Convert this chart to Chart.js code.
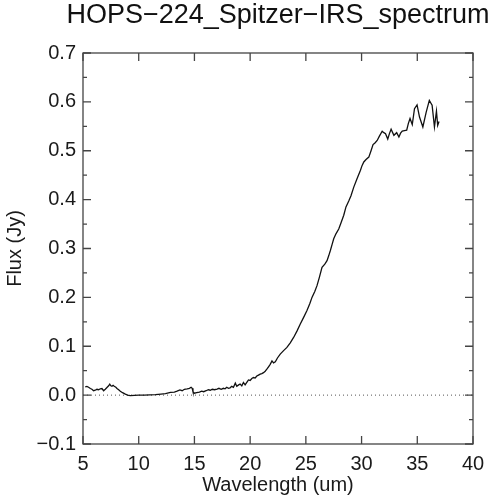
<!DOCTYPE html>
<html lang="en">
<head>
    <meta charset="UTF-8">
    <title>HOPS-224 Spitzer IRS spectrum</title>
    <!-- Chart.js -->
    <script src="https://cdn.jsdelivr.net/npm/chart.js"></script>
    <style>
        body { margin: 0; background: #fff; }
    </style>
</head>
<body>
    <canvas id="spectrumChart" width="493" height="500"></canvas>
    <script>
        // Spectrum: wavelength (um) and flux (Jy)
        const wavelength = [
            5.2, 5.35, 5.5, 5.66, 5.8, 5.95, 6.1, 6.25, 6.4, 6.55, 6.7, 6.85, 7.0, 7.15, 7.3, 7.4, 7.5, 7.6, 7.7, 7.8,
            7.95, 8.05, 8.2, 8.35, 8.55, 8.8, 9.0, 9.25, 9.6, 10.0, 10.5, 11.0, 11.5, 12.0, 12.4, 12.85, 13.2, 13.44, 13.7, 13.9,
            14.1, 14.35, 14.55, 14.7, 14.8, 14.87, 15.0, 15.2, 15.45, 15.65, 15.83, 16.05, 16.25, 16.43, 16.6, 16.8, 17.03, 17.2, 17.4, 17.6,
            17.75, 17.9, 18.05, 18.2, 18.35, 18.5, 18.67, 18.8, 18.97, 19.1, 19.25, 19.4, 19.55, 19.7, 19.85, 20.0, 20.15, 20.3, 20.45, 20.6,
            20.75, 20.9, 21.05, 21.2, 21.35, 21.5, 21.65, 21.8, 21.96, 22.1, 22.26, 22.45, 22.7, 23.0, 23.3, 23.6, 23.9, 24.2, 24.5, 24.8,
            25.1, 25.35, 25.55, 25.8, 26.0, 26.2, 26.45, 26.7, 26.9, 27.05, 27.2, 27.35, 27.5, 27.7, 27.95, 28.15, 28.4, 28.6, 28.85, 29.05,
            29.3, 29.6, 29.9, 30.05, 30.2, 30.4, 30.65, 30.85, 31.03, 31.2, 31.4, 31.6, 31.85, 32.0, 32.15, 32.35, 32.5, 32.65, 32.9, 33.15,
            33.35, 33.5, 33.65, 33.85, 34.05, 34.2, 34.35, 34.45, 34.55, 34.75, 34.98, 35.2, 35.5, 35.8, 36.08, 36.33, 36.54, 36.72, 36.83, 36.95
        ];
        const flux = [
            0.017, 0.018, 0.016, 0.0135, 0.012, 0.009, 0.010, 0.012, 0.011, 0.013, 0.0135, 0.009, 0.012, 0.0157, 0.019, 0.0225, 0.019, 0.018, 0.020, 0.018,
            0.016, 0.0135, 0.011, 0.008, 0.005, 0.002, 0.0, -0.001, -0.0005, 0.0, 0.0, 0.0005, 0.001, 0.002, 0.003, 0.0055, 0.006, 0.008, 0.0105, 0.009,
            0.012, 0.013, 0.014, 0.016, 0.014, 0.007, 0.004, 0.005, 0.006, 0.008, 0.007, 0.009, 0.011, 0.010, 0.012, 0.011, 0.0125, 0.014, 0.012, 0.014,
            0.013, 0.016, 0.014, 0.015, 0.018, 0.016, 0.0245, 0.018, 0.021, 0.0225, 0.019, 0.026, 0.021, 0.026, 0.031, 0.030, 0.034, 0.036, 0.035, 0.039,
            0.041, 0.043, 0.044, 0.046, 0.049, 0.053, 0.058, 0.063, 0.070, 0.066, 0.068, 0.076, 0.084, 0.091, 0.0976, 0.107, 0.118, 0.131, 0.1455, 0.159,
            0.173, 0.187, 0.200, 0.212, 0.224, 0.240, 0.2616, 0.268, 0.275, 0.285, 0.296, 0.308, 0.320, 0.330, 0.340, 0.352, 0.368, 0.385, 0.397, 0.408,
            0.4256, 0.443, 0.460, 0.470, 0.477, 0.482, 0.487, 0.500, 0.5125, 0.516, 0.521, 0.530, 0.540, 0.537, 0.535, 0.524, 0.535, 0.544, 0.5316, 0.537,
            0.528, 0.536, 0.540, 0.541, 0.542, 0.556, 0.566, 0.560, 0.5535, 0.586, 0.594, 0.569, 0.5486, 0.579, 0.603, 0.593, 0.5486, 0.581, 0.552, 0.560
        ];

        // Axis ticks and their labels
        const xTicks = [5, 10, 15, 20, 25, 30, 35, 40];
        const xTickLabels = ['5', '10', '15', '20', '25', '30', '35', '40'];
        const yTicks = [-0.1, 0.0, 0.1, 0.2, 0.3, 0.4, 0.5, 0.6, 0.7];
        const yTickLabels = ['\u22120.1', '0.0', '0.1', '0.2', '0.3', '0.4', '0.5', '0.6', '0.7'];
        const chartTitle = 'HOPS\u2212224_Spitzer\u2212IRS_spectrum';

        const fontFamily = "'Liberation Sans', Arial, sans-serif";
        const axisColor = '#444';
        Chart.defaults.font.family = fontFamily;
        Chart.defaults.color = '#1a1a1a';

        // Box around the plot with inward ticks on all four sides,
        // plus the title centred over the plot (allowed to run past it, like the original)
        const frameTicks = {
            id: 'frameTicks',
            afterDatasetsDraw(chart) {
                const { ctx, chartArea: a, scales: { x, y } } = chart;
                ctx.save();
                ctx.strokeStyle = axisColor;
                ctx.lineWidth = 1.3;
                ctx.strokeRect(a.left, a.top, a.right - a.left, a.bottom - a.top);
                ctx.beginPath();
                xTicks.forEach(v => {
                    const px = x.getPixelForValue(v);
                    ctx.moveTo(px, a.bottom); ctx.lineTo(px, a.bottom - 8);
                    ctx.moveTo(px, a.top); ctx.lineTo(px, a.top + 8);
                });
                yTicks.forEach((v, i) => {
                    const py = y.getPixelForValue(v);
                    ctx.moveTo(a.left, py); ctx.lineTo(a.left + 8, py);
                    ctx.moveTo(a.right, py); ctx.lineTo(a.right - 8, py);
                    if (i < yTicks.length - 1) {
                        const pm = y.getPixelForValue((v + yTicks[i + 1]) / 2);
                        ctx.moveTo(a.left, pm); ctx.lineTo(a.left + 4, pm);
                        ctx.moveTo(a.right, pm); ctx.lineTo(a.right - 4, pm);
                    }
                });
                ctx.stroke();

                ctx.fillStyle = '#111';
                ctx.font = '27px ' + fontFamily;
                ctx.textAlign = 'center';
                ctx.textBaseline = 'alphabetic';
                ctx.fillText(chartTitle, (a.left + a.right) / 2, 23);
                ctx.restore();
            }
        };

        const ctx = document.getElementById('spectrumChart').getContext('2d');
        const spectrumChart = new Chart(ctx, {
            type: 'line',
            data: {
                datasets: [{
                    label: 'Flux',
                    data: wavelength.map((w, i) => ({ x: w, y: flux[i] })),
                    borderColor: '#111',
                    borderWidth: 1.3,
                    pointRadius: 0,
                    tension: 0
                }, {
                    label: 'Zero',
                    data: [{ x: xTicks[0], y: 0 }, { x: xTicks[xTicks.length - 1], y: 0 }],
                    borderColor: '#555',
                    borderWidth: 1,
                    borderDash: [1, 3],
                    pointRadius: 0
                }]
            },
            options: {
                responsive: false,
                animation: false,
                layout: { padding: { top: 53, right: 20 } },
                plugins: {
                    legend: { display: false },
                    tooltip: { enabled: false },
                    title: { display: false }
                },
                scales: {
                    x: {
                        type: 'linear',
                        min: 5,
                        max: 40,
                        afterBuildTicks: s => { s.ticks = xTicks.map(v => ({ value: v })); },
                        afterFit: s => { s.height = 56; },
                        grid: { display: false, drawTicks: false },
                        border: { display: false },
                        ticks: {
                            padding: 8,
                            maxRotation: 0,
                            font: { size: 20 },
                            callback: (v, i) => xTickLabels[i]
                        },
                        title: {
                            display: true,
                            text: 'Wavelength (um)',
                            font: { size: 20 },
                            padding: { top: 0, bottom: 3 }
                        }
                    },
                    y: {
                        type: 'linear',
                        min: -0.1,
                        max: 0.7,
                        afterBuildTicks: s => { s.ticks = yTicks.map(v => ({ value: v })); },
                        afterFit: s => { s.width = 83; },
                        grid: { display: false, drawTicks: false },
                        border: { display: false },
                        ticks: {
                            padding: 7,
                            font: { size: 20 },
                            callback: (v, i) => yTickLabels[i]
                        },
                        title: {
                            display: true,
                            text: 'Flux (Jy)',
                            font: { size: 20 },
                            padding: { top: 3, bottom: 0 }
                        }
                    }
                }
            },
            plugins: [frameTicks]
        });
    </script>
</body>
</html>
